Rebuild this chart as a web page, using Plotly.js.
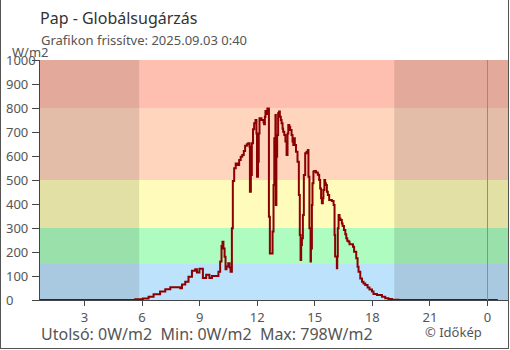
<!DOCTYPE html>
<html>
<head>
<meta charset="utf-8">
<script src="https://cdn.plot.ly/plotly-3.0.1.min.js"></script>
<style>html,body{margin:0;padding:0;background:#fff;}#chart{width:510px;height:350px;}</style>
</head>
<body>
<div id="chart"></div>
<script>
// Time of each reading (hours since previous midnight) and irradiance (W/m2)
const hours = [0.67, 5.64, 6.04, 6.34, 6.60, 6.94, 7.21, 7.47, 7.99, 8.08,
  8.25, 8.42, 8.60, 8.77, 8.86, 8.99, 9.17, 9.34, 9.51, 9.64,
  9.98, 10.07, 10.14, 10.19, 10.24, 10.30, 10.35, 10.40, 10.49, 10.56,
  10.61, 10.68, 10.73, 10.80, 10.88, 10.98, 11.06, 11.14, 11.22, 11.30,
  11.37, 11.46, 11.53, 11.60, 11.62, 11.67, 11.72, 11.78, 11.84, 11.91,
  11.96, 11.99, 12.04, 12.08, 12.12, 12.22, 12.33, 12.36, 12.40, 12.43,
  12.50, 12.53, 12.61, 12.66, 12.80, 12.85, 12.89, 12.92, 12.95, 12.97,
  13.00, 13.04, 13.09, 13.14, 13.18, 13.23, 13.27, 13.32, 13.35, 13.41,
  13.47, 13.53, 13.58, 13.62, 13.67, 13.72, 13.79, 13.84, 13.88, 13.93,
  13.96, 14.02, 14.10, 14.17, 14.22, 14.26, 14.29, 14.33, 14.38, 14.43,
  14.50, 14.57, 14.64, 14.67, 14.72, 14.78, 14.80, 14.81, 14.85, 14.88,
  14.93, 14.98, 15.06, 15.16, 15.23, 15.28, 15.33, 15.37, 15.42, 15.45,
  15.50, 15.54, 15.58, 15.63, 15.68, 15.75, 15.89, 15.98, 16.03, 16.06,
  16.15, 16.17, 16.20, 16.24, 16.29, 16.34, 16.41, 16.45, 16.52, 16.59,
  16.64, 16.69, 16.76, 16.81, 16.99, 17.05, 17.16, 17.23, 17.28, 17.37,
  17.46, 17.54, 17.63, 17.75, 17.85, 17.98, 18.06, 18.24, 18.50, 18.67,
  18.84, 19.02, 19.36, 24.54];
const wm2 = [0, 3, 6, 14, 24, 35, 45, 53, 49, 65,
  76, 97, 122, 128, 115, 130, 92, 105, 92, 100,
  118, 160, 225, 243, 215, 180, 128, 140, 153, 135,
  118, 299, 496, 549, 569, 563, 583, 597, 604, 621,
  643, 649, 653, 639, 451, 521, 653, 711, 736, 750,
  694, 514, 576, 694, 757, 750, 740, 732, 764, 788,
  775, 798, 347, 194, 285, 479, 674, 576, 771, 396,
  597, 688, 778, 785, 764, 750, 736, 715, 701, 688,
  660, 604, 694, 729, 722, 708, 688, 660, 646, 674,
  646, 618, 576, 437, 271, 167, 229, 257, 354, 521,
  611, 618, 625, 514, 299, 160, 278, 215, 396, 486,
  535, 538, 531, 522, 500, 465, 424, 403, 424, 458,
  500, 486, 479, 451, 437, 417, 413, 396, 271, 181,
  132, 181, 299, 354, 340, 333, 319, 308, 292, 274,
  257, 247, 243, 232, 222, 201, 174, 139, 118, 90,
  76, 69, 62, 52, 44, 35, 25, 21, 14, 7,
  4, 1, 0, 0];

const xTickVals = [3, 6, 9, 12, 15, 18, 21, 24];
const xTickText = ['3', '6', '9', '12', '15', '18', '21', '0'];
const yTickVals = [0, 100, 200, 300, 400, 500, 600, 700, 800, 900, 1000];

// Intensity zones (W/m2)
const bandLow  = [0, 150, 300, 500, 800];
const bandHigh = [150, 300, 500, 800, 1000];
const bandColors = ['#bde2fc', '#aefcbf', '#fffcbb', '#ffd5bd', '#ffbfb0'];

// Night periods (hours)
const sunrise = 5.85, sunset = 19.14;
const midnight = 24;

const title = 'Pap - Globálsugárzás';
const subtitle = 'Grafikon frissítve: 2025.09.03 0:40';
const yUnit = 'W/m2';
const footer = 'Utolsó: 0W/m2&nbsp;&nbsp;Min: 0W/m2&nbsp;&nbsp;Max: 798W/m2';
const credit = '© Időkép';

const FONT = 'Noto Sans, Open Sans, sans-serif';
const xMin = 0.682, xMax = 25.068;

const shapes = [];
for (let i = 0; i < bandLow.length; i++) {
  shapes.push({type: 'rect', layer: 'below', xref: 'paper', yref: 'y', x0: 0, x1: 1,
    y0: bandLow[i], y1: bandHigh[i], fillcolor: bandColors[i], line: {width: 0}});
}
shapes.push({type: 'rect', layer: 'below', xref: 'x', yref: 'paper', x0: xMin, x1: sunrise,
  y0: 0, y1: 1, fillcolor: 'rgba(0,0,0,0.11)', line: {width: 0}});
shapes.push({type: 'rect', layer: 'below', xref: 'x', yref: 'paper', x0: sunset, x1: xMax,
  y0: 0, y1: 1, fillcolor: 'rgba(0,0,0,0.11)', line: {width: 0}});
shapes.push({type: 'line', layer: 'above', xref: 'x', yref: 'paper', x0: midnight, x1: midnight,
  y0: 0, y1: 1, line: {color: '#4a9fe0', width: 1}});
// outer frame (left, right, bottom)
const px = p => (p - 40) / 468, py = p => (300 - p) / 240;
shapes.push({type: 'line', xref: 'paper', yref: 'paper', x0: px(0.5), x1: px(0.5), y0: py(0), y1: py(349), line: {color: '#555', width: 1}});
shapes.push({type: 'line', xref: 'paper', yref: 'paper', x0: px(508.5), x1: px(508.5), y0: py(0), y1: py(349), line: {color: '#555', width: 1}});
shapes.push({type: 'line', xref: 'paper', yref: 'paper', x0: px(0), x1: px(509), y0: py(348.5), y1: py(348.5), line: {color: '#555', width: 1}});

const annotations = yTickVals.map(v => ({
  text: String(v), xref: 'paper', yref: 'y', x: px(4), y: v, xanchor: 'left', yanchor: 'middle',
  showarrow: false, font: {family: FONT, size: 13, color: '#555'}
}));
annotations.push({text: subtitle, xref: 'paper', yref: 'paper', x: px(39), y: py(40), xanchor: 'left', yanchor: 'middle',
  showarrow: false, font: {family: FONT, size: 13, color: '#555'}});
annotations.push({text: yUnit, xref: 'paper', yref: 'paper', x: px(10), y: py(52), xanchor: 'left', yanchor: 'middle',
  showarrow: false, font: {family: FONT, size: 13, color: '#555'}});
annotations.push({text: footer, xref: 'paper', yref: 'paper', x: px(39), y: py(333.5), xanchor: 'left', yanchor: 'middle',
  showarrow: false, font: {family: FONT, size: 16, color: '#555'}});
annotations.push({text: credit, xref: 'paper', yref: 'paper', x: px(453.5), y: py(332), xanchor: 'center', yanchor: 'middle',
  showarrow: false, font: {family: FONT, size: 13, color: '#555'}});

const trace = {
  x: hours, y: wm2, type: 'scatter', mode: 'lines',
  line: {color: '#8b0000', width: 2, shape: 'hv'}, hoverinfo: 'skip'
};

const layout = {
  width: 510, height: 350,
  margin: {l: 40, r: 2, t: 60, b: 50, pad: 0},
  paper_bgcolor: '#fff', plot_bgcolor: '#fff',
  showlegend: false,
  title: {text: title, xref: 'container', yref: 'container', x: 40 / 510, y: 1 - 18 / 350,
    xanchor: 'left', yanchor: 'middle', font: {family: FONT, size: 16, color: '#333'}},
  xaxis: {range: [xMin, xMax], tickmode: 'array', tickvals: xTickVals, ticktext: xTickText,
    ticks: 'outside', ticklen: 5, tickcolor: '#444', tickwidth: 1,
    showline: true, linecolor: '#444', linewidth: 1, showgrid: false, zeroline: false,
    tickfont: {family: FONT, size: 13, color: '#555'}, fixedrange: true},
  yaxis: {range: [0, 1000], tickmode: 'array', tickvals: yTickVals, showticklabels: false,
    ticks: 'outside', ticklen: 7, tickcolor: '#444', tickwidth: 1,
    showline: true, linecolor: '#444', linewidth: 1, showgrid: false, zeroline: false, fixedrange: true},
  shapes: shapes,
  annotations: annotations
};

Plotly.newPlot('chart', [trace], layout, {staticPlot: true, displayModeBar: false});
</script>
</body>
</html>
